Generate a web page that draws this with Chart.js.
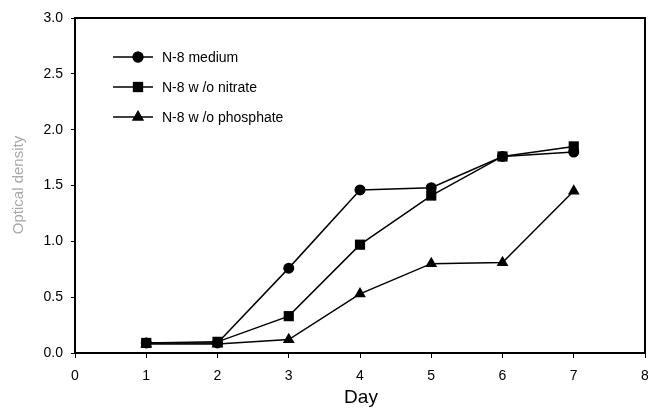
<!DOCTYPE html>
<html>
<head>
<meta charset="utf-8">
<script src="https://cdn.jsdelivr.net/npm/chart.js@4"></script>
<style>
html,body{margin:0;padding:0;background:#fff;}
#wrap{width:648px;height:412px;}
</style>
</head>
<body>
<div id="wrap"><canvas id="c" width="648" height="412"></canvas></div>
<script>
const days = [1, 2, 3, 4, 5, 6, 7];
const seriesNames = ["N-8 medium", "N-8 w /o nitrate", "N-8 w /o phosphate"];
const mediumVals = [0.09, 0.09, 0.76, 1.46, 1.48, 1.76, 1.80];
const nitrateVals = [0.09, 0.10, 0.33, 0.97, 1.41, 1.76, 1.85];
const phosphateVals = [0.08, 0.08, 0.12, 0.53, 0.80, 0.81, 1.45];
const xTitle = "Day";
const yTitle = "Optical density";

const FONT = "'Liberation Sans', Arial, sans-serif";

function pts(vals){ return days.map((d,i)=>({x:d, y:vals[i]})); }

const styles = [
  {pointStyle:'circle', radius:5.5},
  {pointStyle:'rect', radius:7.2},
  {pointStyle:'triangle', radius:6.8}
];

const datasets = [mediumVals, nitrateVals, phosphateVals].map((v,i)=>({
  label: seriesNames[i],
  data: pts(v),
  borderColor:'#000',
  backgroundColor:'#000',
  borderWidth:1.5,
  pointStyle: styles[i].pointStyle,
  pointRadius: styles[i].radius,
  pointBackgroundColor:'#000',
  pointBorderColor:'#000',
  pointBorderWidth:0,
  tension:0
}));

const framePlugin = {
  id:'frame',
  afterDraw(chart){
    const ctx = chart.ctx, a = chart.chartArea;
    ctx.save();
    ctx.strokeStyle = '#000';
    ctx.lineWidth = 2;
    ctx.strokeRect(a.left, a.top, a.right - a.left, a.bottom - a.top);
    // legend
    const lx0 = 113, lx1 = 153, mx = 138, tx = 162;
    const rows = [57, 87, 117];
    ctx.font = "14px " + FONT;
    ctx.textBaseline = 'middle';
    ctx.textAlign = 'left';
    rows.forEach((y,i)=>{
      ctx.strokeStyle = '#000';
      ctx.lineWidth = 1.5;
      ctx.beginPath(); ctx.moveTo(lx0, y); ctx.lineTo(lx1, y); ctx.stroke();
      ctx.fillStyle = '#000';
      Chart.helpers.drawPoint(ctx, {pointStyle: styles[i].pointStyle, radius: styles[i].radius, borderWidth:0}, mx, y);
      ctx.fill();
      ctx.fillStyle = '#000';
      ctx.fillText(seriesNames[i], tx, y + 1);
    });
    // axis titles
    ctx.fillStyle = '#000';
    ctx.font = "19px " + FONT;
    ctx.textAlign = 'center';
    ctx.fillText(xTitle, 361, 398);
    ctx.save();
    ctx.translate(19, 185);
    ctx.rotate(-Math.PI/2);
    ctx.fillStyle = '#a8a8a8';
    ctx.font = "15px " + FONT;
    ctx.fillText(yTitle, 0, 0);
    ctx.restore();
    ctx.restore();
  }
};

new Chart(document.getElementById('c'), {
  type:'line',
  data:{datasets},
  options:{
    responsive:false,
    animation:false,
    events:[],
    layout:{autoPadding:false, padding:{top:18, right:3, left:0, bottom:0}},
    plugins:{legend:{display:false}, tooltip:{enabled:false}},
    scales:{
      x:{
        type:'linear', min:0, max:8,
        ticks:{stepSize:1, color:'#000', font:{family:FONT, size:14}, padding:10, maxRotation:0, autoSkip:false},
        grid:{drawOnChartArea:false, drawTicks:true, tickLength:5, tickColor:'#000'},
        border:{color:'#000', width:2},
        afterFit(s){ s.height = 59; s.paddingRight = 0; s.paddingLeft = 0; }
      },
      y:{
        type:'linear', min:0, max:3,
        ticks:{stepSize:0.5, color:'#000', font:{family:FONT, size:14}, padding:8, callback:v=>v.toFixed(1)},
        grid:{drawOnChartArea:false, drawTicks:true, tickLength:4, tickColor:'#000'},
        border:{color:'#000', width:2},
        afterFit(s){ s.width = 75; s.paddingTop = 0; s.paddingBottom = 0; }
      }
    }
  },
  plugins:[framePlugin]
});
</script>
</body>
</html>
